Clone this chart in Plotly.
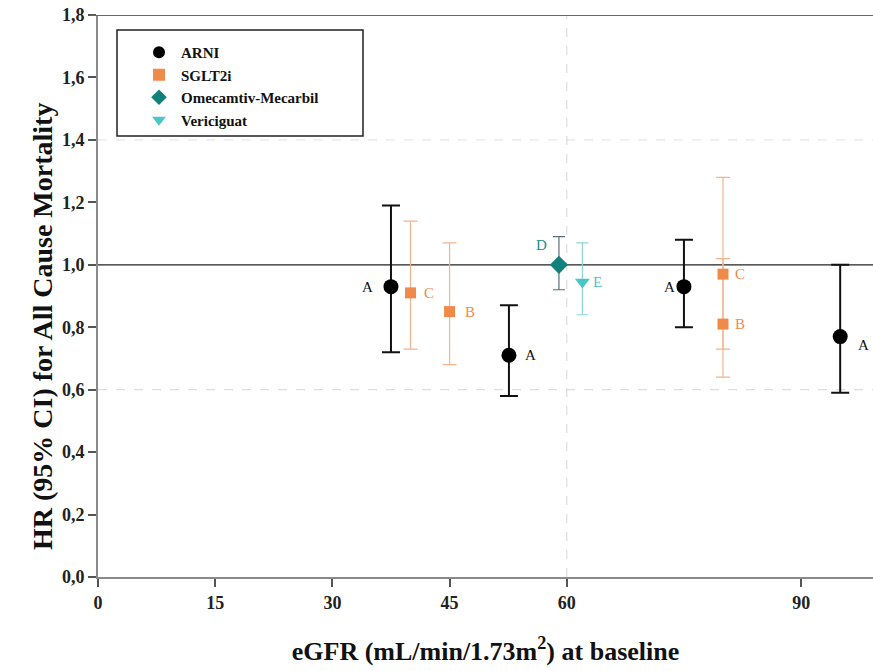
import plotly.graph_objects as go

# ---- data ----
arni_x = [37.5, 52.6, 75.0, 95.0]
arni_hr = [0.93, 0.71, 0.93, 0.77]
arni_lo = [0.72, 0.58, 0.80, 0.59]
arni_hi = [1.19, 0.87, 1.08, 1.00]
arni_lab = ["A", "A", "A", "A"]

sglt_x = [40.0, 45.0, 80.0, 80.0]
sglt_hr = [0.91, 0.85, 0.97, 0.81]
sglt_lo = [0.73, 0.68, 0.73, 0.64]
sglt_hi = [1.14, 1.07, 1.28, 1.02]
sglt_lab = ["C", "B", "C", "B"]

ome_x = [59.0]
ome_hr = [1.00]
ome_lo = [0.92]
ome_hi = [1.09]
ome_lab = ["D"]

ver_x = [62.0]
ver_hr = [0.945]
ver_lo = [0.84]
ver_hi = [1.07]
ver_lab = ["E"]

x_ticks = [0, 15, 30, 45, 60, 90]
y_ticks = [0.0, 0.2, 0.4, 0.6, 0.8, 1.0, 1.2, 1.4, 1.6, 1.8]
y_tick_labels = ["0,0", "0,2", "0,4", "0,6", "0,8", "1,0", "1,2", "1,4", "1,6", "1,8"]

FONT = "Liberation Serif"

fig = go.Figure()
annotations = []

def add_series(name, xs, hr, lo, hi, labs, symbol, mcolor, msize, ecolor, ethick, ewidth, lcolor, offsets):
    fig.add_trace(go.Scatter(
        x=xs, y=hr, mode="markers", name=name,
        marker=dict(symbol=symbol, color=mcolor, size=msize, line=dict(width=0)),
        error_y=dict(type="data", symmetric=False,
                     array=[h - v for h, v in zip(hi, hr)],
                     arrayminus=[v - l for v, l in zip(hr, lo)],
                     color=ecolor, thickness=ethick, width=ewidth),
    ))
    for xv, yv, t, (dx, dy) in zip(xs, hr, labs, offsets):
        annotations.append(dict(x=xv, y=yv, xref="x", yref="y", text=t, showarrow=False,
                                xshift=dx, yshift=dy,
                                font=dict(family=FONT, size=15, color=lcolor)))

add_series("ARNI", arni_x, arni_hr, arni_lo, arni_hi, arni_lab, "circle", "#000000", 15,
           "#111111", 2, 9, "#111111",
           [(-23, 0), (22, 0), (-14, 0), (23, -8)])
add_series("SGLT2i", sglt_x, sglt_hr, sglt_lo, sglt_hi, sglt_lab, "square", "#f08a4b", 11,
           "#f3b48c", 1.2, 7, "#f08a4b",
           [(18, 0), (20, 0), (17, 0), (17, 0)])
add_series("Omecamtiv-Mecarbil", ome_x, ome_hr, ome_lo, ome_hi, ome_lab, "diamond", "#12807d", 14,
           "#5a6f7a", 1.2, 6, "#1d8c89", [(-17, 20)])
add_series("Vericiguat", ver_x, ver_hr, ver_lo, ver_hi, ver_lab, "triangle-down", "#49c6c6", 13,
           "#8fd8d4", 1.2, 6, "#49c6c6", [(15, 0)])

W, H = 873, 671
PL, PT, PB = 98, 15, 577           # plot area in page pixels
L, T, R = PL, PT, 0
B = H - PB
pw, ph = W - PL, PB - PT

def px_x(p):
    return (p - PL) / pw

def px_y(p):
    return (PB - p) / ph

shapes = [
    dict(type="line", xref="paper", yref="y", x0=0, x1=1, y0=0.6, y1=0.6,
         line=dict(color="#dddddd", width=1.2, dash="dash"), layer="below"),
    dict(type="line", xref="paper", yref="y", x0=0, x1=1, y0=1.4, y1=1.4,
         line=dict(color="#e6e6e6", width=1.2, dash="dash"), layer="below"),
    dict(type="line", xref="x", yref="paper", x0=60, x1=60, y0=0, y1=1,
         line=dict(color="#dddddd", width=1.2, dash="dash"), layer="below"),
    dict(type="line", xref="paper", yref="y", x0=0, x1=1, y0=1.0, y1=1.0,
         line=dict(color="#222222", width=1.2), layer="below"),
    dict(type="line", xref="paper", yref="y", x0=-0.01, x1=1, y0=1.8, y1=1.8,
         line=dict(color="#666666", width=2)),
    dict(type="rect", xref="paper", yref="paper",
         x0=px_x(117), x1=px_x(363), y0=px_y(136), y1=px_y(30),
         line=dict(color="#222222", width=1.5), fillcolor="rgba(255,255,255,0)"),
]

annotations.append(dict(text="HR (95% CI) for All Cause Mortality", textangle=-90,
                        xref="paper", yref="paper", x=px_x(42), y=px_y(327),
                        showarrow=False, xanchor="center", yanchor="middle",
                        font=dict(family=FONT, size=28, color="#111111", weight="bold")))

fig.update_layout(
    width=W, height=H,
    margin=dict(l=L, r=R, t=T, b=B, autoexpand=False),
    paper_bgcolor="white", plot_bgcolor="white",
    font=dict(family=FONT, color="#111111"),
    shapes=shapes,
    annotations=annotations,
    showlegend=True,
    legend=dict(x=px_x(137), y=px_y(36), xanchor="left", yanchor="top",
                bgcolor="rgba(0,0,0,0)", borderwidth=0,
                font=dict(family=FONT, size=15, color="#111111", weight="bold"),
                tracegroupgap=0, itemsizing="constant", itemwidth=34),
    xaxis=dict(range=[0, 99.2], tickvals=x_ticks, ticktext=[str(v) for v in x_ticks],
               showgrid=False, zeroline=False, showline=True, linecolor="#8a8a8a", linewidth=2,
               ticks="outside", ticklen=8, tickcolor="#555555", tickwidth=1.5,
               ticklabeloverflow="allow",
               tickfont=dict(family=FONT, size=18, color="#222222", weight="bold"),
               title=dict(text="eGFR (mL/min/1.73m<sup>2</sup>) at baseline",
                          font=dict(family=FONT, size=26, color="#111111", weight="bold"),
                          standoff=30)),
    yaxis=dict(range=[0, 1.8], tickvals=y_ticks, ticktext=y_tick_labels,
               showgrid=False, zeroline=False, showline=True, linecolor="#8a8a8a", linewidth=2,
               ticks="outside", ticklen=8, tickcolor="#555555", tickwidth=1.5,
               ticklabeloverflow="allow",
               tickfont=dict(family=FONT, size=18, color="#222222", weight="bold")),
)

fig.write_html("out.html", config={"displayModeBar": False},
               post_script="document.body.style.margin='0';document.body.style.overflow='hidden';")
